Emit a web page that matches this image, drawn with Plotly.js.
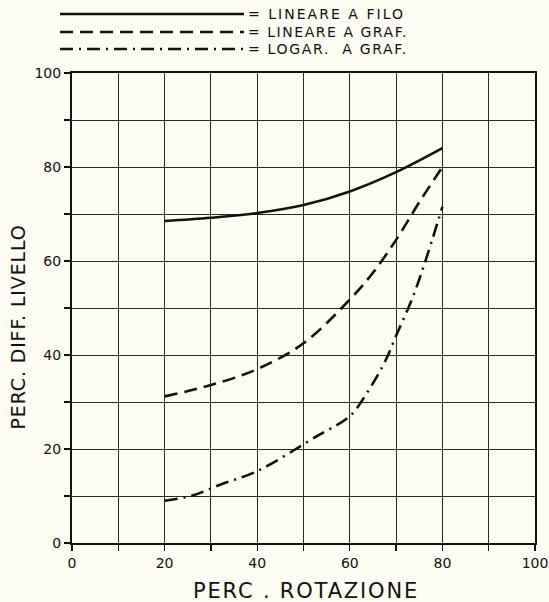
<!DOCTYPE html>
<html>
<head>
<meta charset="utf-8">
<script src="https://cdn.plot.ly/plotly-3.0.1.min.js"></script>
<style>
  html, body { margin: 0; padding: 0; background: #fcfbf4; }
  #chart { width: 549px; height: 602px; }
</style>
</head>
<body>
<div id="chart"></div>
<script>
// Data
const xFilo = [20, 30, 40, 50, 60, 70, 80];
const yFilo = [68.5, 69.2, 70.2, 71.9, 74.8, 78.9, 84];

const xLinGraf = [20, 30, 40, 50, 60, 65, 70, 75, 80];
const yLinGraf = [31.2, 33.6, 37, 42.5, 51.8, 57.5, 64.5, 72.5, 80];

const xLogGraf = [20, 26, 32, 40, 53, 60, 64, 67.5, 70.4, 73.6, 76, 80];
const yLogGraf = [9, 10.1, 12.4, 15.3, 22.8, 27, 32.4, 38.4, 45, 52.3, 59, 71.5];

const seriesNames = ['= LINEARE A FILO', '= LINEARE A GRAF.', '= LOGAR.  A GRAF.'];
const xTitle = 'PERC . ROTAZIONE';
const yTitle = 'PERC. DIFF. LIVELLO';

const ink = '#111111';
const gridCol = '#2e2822';
const font = 'DejaVu Sans, Liberation Sans, sans-serif';

const dashes = ['solid', '13px,7px', '13px,6px,2px,6px'];

const traces = [
  {x: xFilo, y: yFilo, name: seriesNames[0], mode: 'lines',
   line: {color: ink, width: 2.6, shape: 'spline', smoothing: 1, dash: dashes[0]}},
  {x: xLinGraf, y: yLinGraf, name: seriesNames[1], mode: 'lines',
   line: {color: ink, width: 2.6, shape: 'spline', dash: dashes[1]}},
  {x: xLogGraf, y: yLogGraf, name: seriesNames[2], mode: 'lines',
   line: {color: ink, width: 2.6, shape: 'spline', dash: dashes[2]}}
];

// Long legend samples drawn as shapes in paper coordinates (legend decoration)
const legendY = [14, 32, 49];
const shapes = [];
const annotations = [];
const H = 602, mT = 73, mB = 59;
const plotH = H - mT - mB;
legendY.forEach((py, i) => {
  const yp = 1 + (mT - py) / plotH;
  shapes.push({type: 'line', xref: 'paper', yref: 'paper',
    x0: (60 - 72) / 463, x1: (244 - 72) / 463, y0: yp, y1: yp,
    line: {color: ink, width: 2.4, dash: dashes[i]}});
  annotations.push({xref: 'paper', yref: 'paper', x: (247 - 72) / 463, y: yp,
    xanchor: 'left', yanchor: 'middle', showarrow: false,
    text: seriesNames[i], font: {family: font, size: 14, color: ink}});
});

const axisCommon = {
  range: [0, 100], dtick: 20, tick0: 0,
  showgrid: true, gridcolor: gridCol, gridwidth: 1,
  ticks: 'outside', ticklen: 6, tickcolor: ink, tickwidth: 1.3,
  showline: true, linecolor: ink, linewidth: 2, mirror: true,
  zeroline: false, fixedrange: true,
  tickfont: {family: font, size: 14, color: ink},
  minor: {dtick: 10, showgrid: true, gridcolor: gridCol, gridwidth: 1,
          ticks: 'outside', ticklen: 6, tickcolor: ink, tickwidth: 1.3},
  automargin: false
};

const layout = {
  width: 549, height: 602,
  margin: {l: 72, r: 14, t: mT, b: mB},
  paper_bgcolor: '#fcfbf4', plot_bgcolor: '#fcfbf4',
  showlegend: false,
  xaxis: Object.assign({}, axisCommon, {
    title: {text: xTitle, font: {family: font, size: 21, color: ink}, standoff: 14}
  }),
  yaxis: Object.assign({}, axisCommon, {
    title: {text: yTitle, font: {family: font, size: 19, color: ink}, standoff: 10}
  }),
  shapes: shapes,
  annotations: annotations
};

// stretch lettering to the widths of the stencilled text in the reference
function extent(el, vertical) {
  const r = el.getBoundingClientRect();
  return vertical ? r.height : r.width;
}
function spread(el, target, vertical) {
  if (!el) return;
  const n = el.textContent.length;
  el.style.letterSpacing = '0px';
  let ls = 0;
  for (let k = 0; k < 3; k++) {
    const w = extent(el, vertical);
    ls += (target - w) / (n - 1);
    if (ls < 0) ls = 0;
    el.style.letterSpacing = ls + 'px';
  }
}
// move a text so that its bounding box lands at a given spot
function place(el, gd, opts) {
  if (!el) return;
  const host = gd.getBoundingClientRect();
  const r = el.getBoundingClientRect();
  let dx = 0, dy = 0;
  if (opts.left !== undefined) dx = opts.left - (r.left - host.left);
  if (opts.cx !== undefined) dx = opts.cx - (r.left - host.left + r.width / 2);
  if (opts.cy !== undefined) dy = opts.cy - (r.top - host.top + r.height / 2);
  const prev = el.getAttribute('transform') || '';
  el.setAttribute('transform', `translate(${dx},${dy}) ` + prev);
}

Plotly.newPlot('chart', traces, layout, {staticPlot: true, displayModeBar: false}).then(gd => {
  const legendTargets = [157, 160, 160];
  const texts = Array.from(gd.querySelectorAll('.annotation-text'));
  seriesNames.forEach((name, i) => {
    const t = texts.find(e => e.textContent.replace(/\s+/g, ' ') === name.replace(/\s+/g, ' '));
    if (!t) return;
    spread(t, legendTargets[i], false);
    place(t, gd, {left: 248, cy: legendY[i]});
  });
  const xt = gd.querySelector('.g-xtitle text');
  spread(xt, 226, false);
  place(xt, gd, {cx: 306, cy: 591});
  const yt = gd.querySelector('.g-ytitle text');
  spread(yt, 205, true);
  place(yt, gd, {cx: 18, cy: 327});
});
</script>
</body>
</html>
